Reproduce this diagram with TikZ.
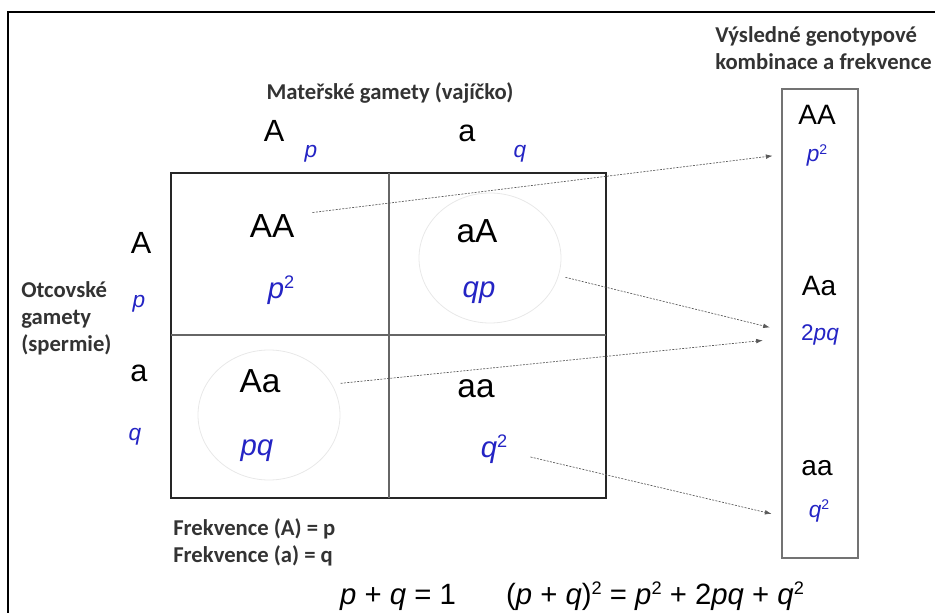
\documentclass[tikz,border=0pt]{standalone}
\usepackage{fontspec}
\setmainfont{Liberation Sans}
\newfontfamily\labelfont{Carlito}
\usetikzlibrary{arrows.meta,shapes.geometric}
\definecolor{freqblue}{RGB}{36,36,196}
\definecolor{captiongray}{RGB}{51,51,51}
\newcommand\sqtwo{\raisebox{0.32em}{\scalebox{0.62}{2}}}

\begin{document}
\begin{tikzpicture}[
  x=0.75pt,
  y=-0.75pt,
  >=Latex,
  caption/.style={
    font=\labelfont\bfseries\fontsize{17}{20.25}\selectfont,
    text=captiongray,
    align=left,
    inner sep=0pt
  },
  allele/.style={font=\fontsize{23}{27}\selectfont, inner sep=0pt, anchor=base},
  allelefreq/.style={font=\itshape\fontsize{17}{20}\selectfont, text=freqblue, inner sep=0pt, anchor=base},
  genotype/.style={font=\fontsize{25}{30}\selectfont, inner sep=0pt, anchor=base},
  genofreq/.style={font=\fontsize{22}{26}\selectfont, text=freqblue, inner sep=0pt, anchor=base},
  result/.style={font=\fontsize{21}{25}\selectfont, inner sep=0pt, anchor=base},
  resultfreq/.style={font=\fontsize{17}{20}\selectfont, text=freqblue, inner sep=0pt, anchor=base},
  hetero/.style={
    ellipse,
    draw=black!9,
    line width=0.6pt,
    minimum width=106.5pt,
    minimum height=97.5pt,
    inner sep=0pt
  },
  frame/.style={draw=black, line width=1.5pt},
  gridouter/.style={draw=black!85, line width=1.6pt},
  gridinner/.style={draw=black!60, line width=1.1pt},
  resultbox/.style={draw=black!55, line width=1.1pt},
  pairing/.style={-{Latex[length=5pt,width=3.5pt]}, draw=black!65, line width=0.5pt, dash pattern=on 1.5pt off 1pt},
  formula/.style={font=\fontsize{22}{26}\selectfont, inner sep=0pt, anchor=base}
]
  \useasboundingbox (0,0) rectangle (935,613);
  \draw[frame] (8,640) |- (950,12);

  % Punnett square.
  \draw[gridouter] (171,173) rectangle (606,498);
  \draw[gridinner] (389,173) -- (389,498);
  \draw[gridinner] (171,335) -- (606,335);

  \node[hetero] (circaA) at (490,258) {};
  \node[hetero] (circAa) at (269,415) {};

  % Gametes of both parents.
  \node[caption,anchor=base] (mother) at (390,100) {Mateřské gamety (vajíčko)};
  \node[allele] (mA) at (274,142) {A};
  \node[allelefreq] (mp) at (311,158) {p};
  \node[allele] (ma) at (467,142) {a};
  \node[allelefreq] (mq) at (520,158) {q};

  \node[caption,anchor=north west] (father) at (21,281) {Otcovské\\gamety\\(spermie)};
  \node[allele] (fA) at (141,253) {A};
  \node[allelefreq] (fp) at (139,307) {p};
  \node[allele] (fa) at (139,381) {a};
  \node[allelefreq] (fq) at (135,440) {q};

  % Offspring in the four cells.
  \node[genotype] (gAA) at (272,237) {AA};
  \node[genofreq] (fAA) at (281,298) {\textit{p}\sqtwo};
  \node[genotype] (gaA) at (477,243) {aA};
  \node[genofreq] (faA) at (479,297) {\textit{qp}};
  \node[genotype] (gAa) at (260,392) {Aa};
  \node[genofreq] (fAa) at (257,455) {\textit{pq}};
  \node[genotype] (gaa) at (476,397) {aa};
  \node[genofreq] (faa) at (494,457) {\textit{q}\sqtwo};

  \node[caption,anchor=north west] (freqs) at (173,518) {Frekvence (A) = p\\Frekvence (a) = q};

  % Resulting genotypes.
  \node[caption,anchor=north west] (restitle) at (715,26) {Výsledné genotypové\\kombinace a frekvence};
  \draw[resultbox] (782,89) rectangle (858,558);
  \node[result] (rAA) at (817,125) {AA};
  \node[resultfreq] (rp2) at (817,162) {\textit{p}\sqtwo};
  \node[result] (rAa) at (819,295) {Aa};
  \node[resultfreq] (r2pq) at (820,340) {2\textit{pq}};
  \node[result] (raa) at (817,475) {aa};
  \node[resultfreq] (rq2) at (819,517) {\textit{q}\sqtwo};

  \draw[pairing] ([shift={(18,-13)}]gAA.east) -- ([shift={(-34,0)}]rp2.west);
  \draw[pairing] ([shift={(7,1)}]circaA.-15) -- ([shift={(-31,-7)}]r2pq.west);
  \draw[pairing] ([shift={(8,-2)}]circAa.25) -- ([shift={(-38,6)}]r2pq.west);
  \draw[pairing] ([shift={(23,8)}]faa.east) -- ([shift={(-37,3)}]rq2.west);

  \node[formula] (sum) at (398,604) {\textit{p} + \textit{q} = 1};
  \node[formula] (square) at (655,604) {(\textit{p} + \textit{q})\sqtwo{} = \textit{p}\sqtwo{} + 2\textit{pq} + \textit{q}\sqtwo};
\end{tikzpicture}
\end{document}
